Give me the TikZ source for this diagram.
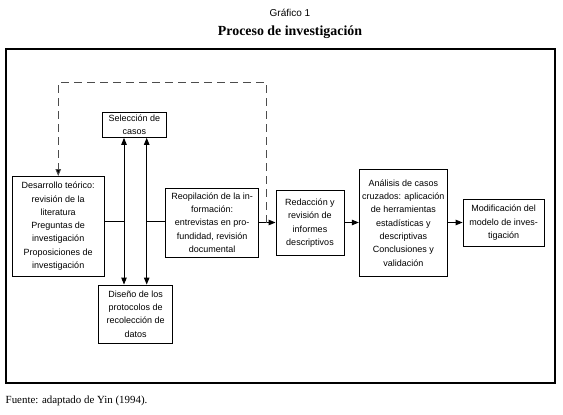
\documentclass[tikz,border=0pt]{standalone}
\usepackage{fontspec}
\setmainfont{Liberation Serif}
\newfontfamily\arialf{Liberation Sans}
\usetikzlibrary{arrows.meta}
\begin{document}
\begin{tikzpicture}[x=1pt,y=-1pt,
  boxst/.style={draw=black,line width=0.9pt,inner sep=0pt,align=center,
    font=\arialf\fontsize{9}{13.3}\selectfont},
  arr/.style={line width=0.9pt,-{Triangle[length=7pt,width=5.5pt]}},
  darr/.style={line width=0.9pt,{Triangle[length=7pt,width=5.5pt]}-{Triangle[length=7pt,width=5.5pt]}},
  plain/.style={line width=0.9pt},
  dsh/.style={line width=0.9pt,draw=black!70,dash pattern=on 8pt off 5pt,-{Triangle[length=7pt,width=5.5pt,fill=black]}}]
\useasboundingbox (0,0) rectangle (563,415);
% titles
\node (g1) at (290,12.5) {\arialf\fontsize{10}{12}\selectfont Gráfico 1};
\node (tt) at (290,32) {\fontsize{13.9}{16}\selectfont\bfseries Proceso de investigación};
\node[anchor=west,inner sep=0pt] (ft) at (5.5,401) {\fontsize{10.9}{13}\selectfont Fuente: adaptado de Yin (1994).};
% frame
\node[draw=black,line width=2.2pt,minimum width=549pt,minimum height=333.5pt,inner sep=0pt] (frame) at (280.2,216) {};
% boxes
\node[boxst,minimum width=91.5pt,minimum height=99.5pt] (des) at (58.25,226.25)
  {Desarrollo teórico:\\revisión de la\\literatura\\Preguntas de\\investigación\\Proposiciones de\\investigación};
\node[boxst,minimum width=63.3pt,minimum height=24.8pt] (sel) at (134.3,125)
  {Selección de\\casos};
\node[boxst,minimum width=74pt,minimum height=58pt] (dis) at (135.7,314)
  {Diseño de los\\protocolos de\\recolección de\\datos};
\node[boxst,minimum width=93pt,minimum height=69pt] (reo) at (212.2,222.5)
  {Reopilación de la in-\\formación:\\entrevistas en pro-\\fundidad, revisión\\documental};
\node[boxst,minimum width=68pt,minimum height=65pt] (red) at (310,223.2)
  {Redacción y\\revisión de\\informes\\descriptivos};
\node[boxst,minimum width=88pt,minimum height=107.4pt] (ana) at (403.3,223)
  {Análisis de casos\\cruzados: aplicación\\de herramientas\\estadísticas y\\descriptivas\\Conclusiones y\\validación};
\node[boxst,minimum width=81.3pt,minimum height=46.7pt] (mod) at (503.7,222.7)
  {Modificación del\\modelo de inves-\\tigación};
% helper coordinates
\coordinate (v1) at (124,221);
\coordinate (v2) at (146.7,221);
\coordinate (d1) at (266.7,222.5);
\coordinate (dtop) at (58.25,82.7);
% connectors
\draw[plain] (des.east |- v1) -- (v1);
\draw[plain] (v2) -- (reo.west |- v2);
\draw[darr] (sel.south -| v1) -- (dis.north -| v1);
\draw[darr] (sel.south -| v2) -- (dis.north -| v2);
\draw[arr] (reo.east |- d1) -- (red.west |- d1);
\draw[arr] (red.east |- d1) -- (ana.west |- d1);
\draw[arr] (ana.east |- d1) -- (mod.west |- d1);
\draw[dsh] (d1) |- (dtop) -- (des.north);
\end{tikzpicture}
\end{document}
